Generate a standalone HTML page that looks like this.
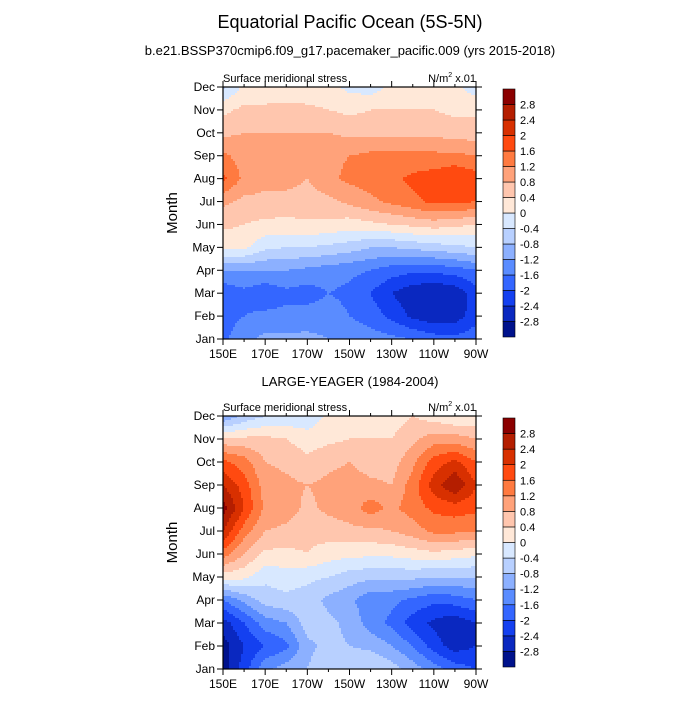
<!DOCTYPE html>
<html><head><meta charset="utf-8"><style>
body{margin:0;background:#fff}
svg text{font-family:"Liberation Sans",sans-serif;fill:#000}
</style></head><body>
<svg id="s" width="700" height="700" xmlns="http://www.w3.org/2000/svg">
<text x="350" y="28" font-size="18" text-anchor="middle">Equatorial Pacific Ocean (5S-5N)</text>
<text x="350" y="55" font-size="13" text-anchor="middle">b.e21.BSSP370cmip6.f09_g17.pacemaker_pacific.009 (yrs 2015-2018)</text>
<text x="350" y="386" font-size="13" text-anchor="middle">LARGE-YEAGER (1984-2004)</text>
</svg>
<script>
const months=["Jan","Feb","Mar","Apr","May","Jun","Jul","Aug","Sep","Oct","Nov","Dec"];
const lons=[150,160,170,180,190,200,210,220,230,240,250,260,270];
const lonTicks=["150E","170E","170W","150W","130W","110W","90W"];
const levels=[-2.8,-2.4,-2,-1.6,-1.2,-0.8,-0.4,0,0.4,0.8,1.2,1.6,2,2.4,2.8];
const levelLabels=["-2.8","-2.4","-2","-1.6","-1.2","-0.8","-0.4","0","0.4","0.8","1.2","1.6","2","2.4","2.8"];
const colors=["#00128c","#0a28c0","#1440f0","#3466ff","#5a8cff","#8cb0ff","#b8d0ff","#d8e8ff","#ffe8d8","#ffc6ae","#ffa27a","#ff7a40","#ff4a10","#d83000","#b41e00","#8b0000"];
const modelVals=[
[-1.7,-1.3,-1.1,-1.1,-1.1,-1.2,-1.3,-1.4,-1.5,-1.6,-1.8,-1.9,-1.7],
[-1.8,-1.6,-1.5,-1.5,-1.4,-1.4,-1.6,-1.8,-2.1,-2.5,-2.7,-2.6,-2.2],
[-1.9,-1.7,-1.9,-1.7,-1.8,-1.6,-1.7,-2.0,-2.4,-2.7,-2.8,-2.7,-2.2],
[-1.2,-1.2,-1.2,-1.2,-1.3,-1.4,-1.5,-1.6,-1.8,-1.9,-1.9,-1.8,-1.6],
[0.1,0.1,-0.3,-0.4,-0.4,-0.5,-0.6,-0.8,-0.8,-0.7,-0.6,-0.5,-0.4],
[0.5,0.4,0.3,0.3,0.35,0.3,0.2,0.3,0.4,0.5,0.6,0.5,0.4],
[0.9,0.7,0.7,0.6,0.6,0.7,0.9,1.1,1.3,1.5,1.7,1.7,1.6],
[1.7,1.1,0.9,1.0,0.8,1.1,1.3,1.4,1.5,1.7,1.8,2.0,1.8],
[1.3,1.0,0.9,1.0,1.0,1.1,1.2,1.3,1.3,1.3,1.3,1.3,1.2],
[0.7,0.8,0.8,0.8,0.8,0.8,0.7,0.7,0.7,0.7,0.7,0.6,0.6],
[0.3,0.5,0.5,0.5,0.5,0.4,0.3,0.4,0.4,0.4,0.4,0.3,0.3],
[-0.5,0.1,0.1,0.2,0.1,0.1,-0.1,-0.2,0.1,0.2,0.1,0.1,-0.2]];
const obsVals=[
[-3.0,-2.2,-1.3,-1.0,-0.8,-0.5,-0.5,-0.4,-0.6,-1.0,-1.4,-1.8,-2.0],
[-3.0,-2.4,-2.0,-1.7,-0.9,-0.7,-0.8,-0.9,-1.2,-1.6,-2.2,-2.6,-2.4],
[-2.6,-2.0,-1.4,-1.2,-0.6,-0.7,-0.9,-1.4,-1.7,-2.2,-2.5,-2.7,-2.4],
[-1.6,-1.1,-0.6,-0.5,-0.6,-0.9,-1.1,-1.5,-1.5,-1.7,-1.9,-1.8,-1.6],
[0.2,0.1,-0.3,-0.2,-0.3,-0.4,-0.6,-0.7,-0.7,-0.7,-0.8,-0.8,-0.8],
[1.4,0.8,0.3,0.3,0.4,0.2,0.1,0.1,0.1,0.2,0.3,0.2,0.1],
[2.4,1.4,0.8,0.7,0.5,0.6,0.7,0.7,0.8,1.0,1.3,1.3,1.2],
[3.0,2.0,1.1,1.0,0.7,0.9,1.0,1.4,1.1,1.4,1.7,1.8,1.7],
[2.4,1.8,1.0,0.9,0.8,0.9,1.0,0.9,0.8,1.4,2.2,2.8,2.0],
[1.7,1.4,0.8,0.7,0.5,0.7,0.8,0.6,0.6,1.1,1.8,2.1,1.6],
[0.5,0.5,0.5,0.4,0.2,0.3,0.4,0.4,0.4,0.7,1.0,1.0,0.8],
[-1.2,-0.7,-0.4,-0.3,-0.3,0.1,0.1,0.2,0.2,0.4,0.2,0.0,0.1]];

const NS="http://www.w3.org/2000/svg";
const svg=document.getElementById('s');
function mk(tag,attrs,parent){const e=document.createElementNS(NS,tag);for(const k in attrs)e.setAttribute(k,attrs[k]);(parent||svg).appendChild(e);return e;}
function colorFor(v){let i=0;while(i<levels.length&&v>=levels[i])i++;return colors[i];}
const X0=223,X1=476;
function xScale(lon){return X0+(lon-150)/(270-150)*(X1-X0);}

function panel(vals,top,bottom,name){
  const yScale=m=>bottom-m/11*(bottom-top);
  const g=mk('g',{});
  
  
  const step=2;
  function flush(x0,x1,y,h,col){
    const r=mk('rect',{x:x0,y:y,width:x1-x0+0.3,height:h+0.3,fill:col},g);
    
    
  }
  for(let y=top;y<bottom;y+=step){
    const h=Math.min(step,bottom-y);
    const mf=Math.max(0,Math.min(11,(bottom-(y+h/2))/(bottom-top)*11));
    const m0=Math.min(10,Math.floor(mf)),ft=mf-m0;
    let runStart=X0,runCol=null;
    for(let x=X0;x<X1;x+=step){
      const w=Math.min(step,X1-x);
      const lf=Math.min(lons.length-1,((x+w/2)-X0)/(X1-X0)*(lons.length-1));
      const l0=Math.min(lons.length-2,Math.floor(lf)),fl=lf-l0;
      const v=(vals[m0][l0]*(1-fl)+vals[m0][l0+1]*fl)*(1-ft)+(vals[m0+1][l0]*(1-fl)+vals[m0+1][l0+1]*fl)*ft;
      const c=colorFor(v);
      if(c!==runCol){
        if(runCol)flush(runStart,x,y,h,runCol);
        runStart=x;runCol=c;
      }
    }
    if(runCol)flush(runStart,X1,y,h,runCol);
  }
  const fr=mk('rect',{x:X0,y:top,width:X1-X0,height:bottom-top,fill:'none',stroke:'#000','stroke-width':1.2});
  
  
  months.forEach((m,i)=>{const y=yScale(i);
    mk('line',{x1:X0-6,x2:X0,y1:y,y2:y,stroke:'#000'});mk('line',{x1:X1,x2:X1+6,y1:y,y2:y,stroke:'#000'});
    const t=mk('text',{x:X0-8,y:y+4,'font-size':12,'text-anchor':'end'});t.textContent=m;
    
    });
  for(let lon=150;lon<=270;lon+=10){const x=xScale(lon);const major=(lon-150)%20===0;const L=major?6:3;
    mk('line',{x1:x,x2:x,y1:bottom,y2:bottom+L,stroke:'#000'});mk('line',{x1:x,x2:x,y1:top,y2:top-L,stroke:'#000'});}
  lonTicks.forEach((l,i)=>{const t=mk('text',{x:xScale(150+i*20),y:bottom+19,'font-size':12,'text-anchor':'middle'});t.textContent=l;
    
    });
  const yt=mk('text',{x:0,y:0,'font-size':15,'text-anchor':'middle',transform:`translate(177,${(top+bottom)/2}) rotate(-90)`});yt.textContent='Month';
  
  
  const lt=mk('text',{x:X0,y:top-5,'font-size':11});lt.textContent='Surface meridional stress';
  
  
  const rt=mk('text',{x:X1,y:top-5,'font-size':11,'text-anchor':'end'});
  rt.innerHTML='N/m<tspan font-size="7" dy="-5">2</tspan><tspan dy="5"> x.01</tspan>';
  
  
  const cbT=top+2,cbB=bottom-2,hh=(cbB-cbT)/colors.length;
  const cg=mk('g',{});
  
  
  colors.forEach((c,i)=>{const r=mk('rect',{x:503,y:cbB-(i+1)*hh,width:12,height:hh,fill:c,stroke:'#000','stroke-width':0.6},cg);
    
    });
  levelLabels.forEach((l,i)=>{const t=mk('text',{x:520,y:cbB-(i+1)*hh+4,'font-size':11},cg);t.textContent=l;
    
    });
}
panel(modelVals,87,339,'model-panel');
panel(obsVals,416,669,'obs-panel');
</script>
</body></html>
